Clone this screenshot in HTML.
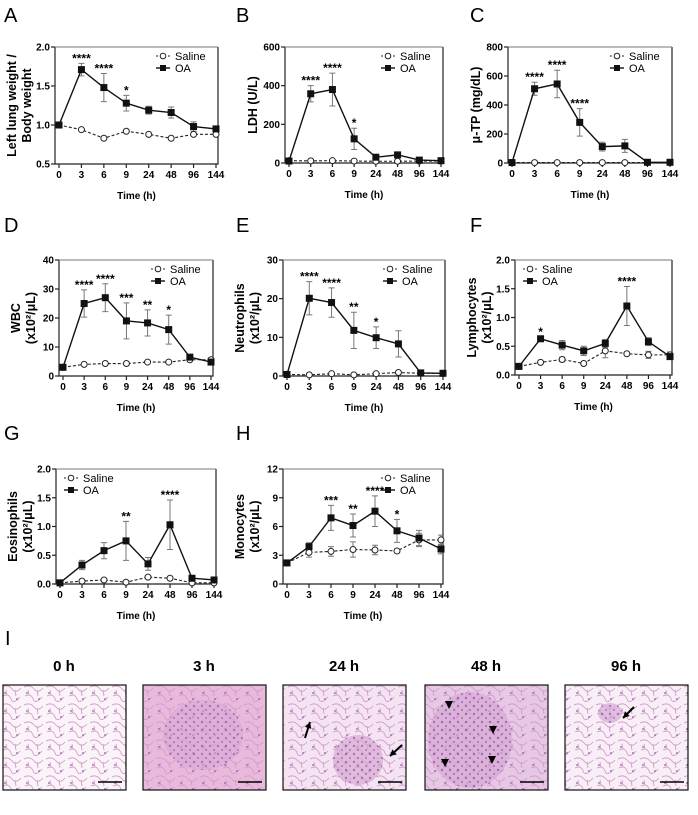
<!DOCTYPE html>
<html><head><meta charset="utf-8">
<style>
html,body{margin:0;padding:0;background:#fff;}
body{width:698px;height:810px;overflow:hidden;font-family:"Liberation Sans",Arial,sans-serif;}
svg text{font-family:"Liberation Sans",Arial,sans-serif;}
</style></head>
<body>
<svg id="fig" width="698" height="810" viewBox="0 0 698 810" xmlns="http://www.w3.org/2000/svg">
<defs>
<pattern id="tis" width="22" height="18" patternUnits="userSpaceOnUse">
<path d="M2 3 Q8 0 12 5 T21 4 M3 12 Q9 9 11 15 T20 13 M6 6 L7 11 M15 6 L16 12" stroke="#d39bcd" stroke-width="0.9" fill="none"/>
<circle cx="5" cy="9" r="0.9" fill="#8a5aa8"/><circle cx="17" cy="15" r="0.9" fill="#8a5aa8"/>
</pattern>
<pattern id="dense" width="8" height="8" patternUnits="userSpaceOnUse">
<rect width="8" height="8" fill="#d9a8d4"/><circle cx="2" cy="2" r="1.2" fill="#7a4aa0"/><circle cx="6" cy="6" r="1.1" fill="#8e5cae"/>
</pattern>
</defs>
<g id="charts"></g>
<g id="histo"></g>
</svg>
<script>
const xCats = ["0","3","6","9","24","48","96","144"];
// Panel A
const aSal = [1.0,0.94,0.83,0.92,0.88,0.83,0.88,0.88];
const aOA = [1.0,1.71,1.48,1.28,1.19,1.16,0.98,0.95];
const aOAErr = [0,0.08,0.18,0.1,0.05,0.07,0.06,0.03];
const aStars = ["","****","****","*","","","",""];
// Panel B
const bSal = [12,11,12,10,9,9,10,10];
const bOA = [10,358,380,125,30,42,15,12];
const bOAErr = [0,42,85,55,8,12,4,3];
const bStars = ["","****","****","*","","","",""];
// Panel C
const cSal = [3,3,3,3,3,3,3,3];
const cOA = [3,512,545,280,113,118,5,5];
const cOAErr = [0,45,95,95,30,45,0,0];
const cStars = ["","****","****","****","","","",""];
// Panel D
const dSal = [3,4,4.3,4.3,4.8,4.8,5.6,5.6];
const dOA = [3,25,27,19,18.3,16,6.5,4.8];
const dOAErr = [0,4.7,4.8,6.2,4.5,5,0.5,0.5];
const dStars = ["","****","****","***","**","*","",""];
// Panel E
const eSal = [0.4,0.3,0.6,0.3,0.6,0.9,0.7,0.7];
const eOA = [0.4,20.1,19,11.8,9.9,8.3,0.8,0.7];
const eOAErr = [0,4.3,3.8,4.7,2.8,3.4,0.2,0.2];
const eStars = ["","****","****","**","*","","",""];
// Panel F
const fSal = [0.15,0.22,0.27,0.2,0.42,0.37,0.35,0.35];
const fSalErr = [0,0,0.04,0,0.12,0,0.06,0.05];
const fOA = [0.15,0.63,0.52,0.42,0.55,1.2,0.58,0.32];
const fOAErr = [0,0.03,0.08,0.08,0.07,0.34,0.07,0.05];
const fStars = ["","*","","","","****","",""];
// Panel G
const gSal = [0.02,0.05,0.07,0.03,0.12,0.1,0.02,0.02];
const gOA = [0.02,0.33,0.58,0.75,0.35,1.03,0.1,0.07];
const gOAErr = [0,0.08,0.14,0.34,0.11,0.43,0.03,0.02];
const gStars = ["","","","**","","****","",""];
// Panel H
const hSal = [2.2,3.3,3.4,3.6,3.55,3.45,4.6,4.6];
const hSalErr = [0,0.5,0.5,0.8,0.5,0.2,0.7,0.5];
const hOA = [2.2,3.9,6.9,6.1,7.6,5.55,4.8,3.65];
const hOAErr = [0,0.4,1.3,1.2,1.6,1.2,0.8,0.5];
const hStars = ["","","***","**","****","*","",""];
// Y ticks
const aTicks=[0.5,1.0,1.5,2.0], bTicks=[0,200,400,600], cTicks=[0,200,400,600,800],
dTicks=[0,10,20,30,40], eTicks=[0,10,20,30], fTicks=[0,0.5,1.0,1.5,2.0], gTicks=[0,0.5,1.0,1.5,2.0], hTicks=[0,3,6,9,12];

const NS="http://www.w3.org/2000/svg";
function mk(tag,attrs,parent,text){const e=document.createElementNS(NS,tag);for(const k in attrs)e.setAttribute(k,attrs[k]);if(text!==undefined)e.textContent=text;parent.appendChild(e);return e;}

const panels=[
{id:"a",letter:"A",lx:4,ly:22,x0:55,x1:218,y0:47,y1:164,ticks:aTicks,dec:1,sal:aSal,oa:aOA,oaErr:aOAErr,stars:aStars,ylab:["Left lung weight /","Body weight"],legLeft:false},
{id:"b",letter:"B",lx:236,ly:22,x0:285,x1:443,y0:47,y1:163,ticks:bTicks,dec:0,sal:bSal,oa:bOA,oaErr:bOAErr,stars:bStars,ylab:["LDH (U/L)"],legLeft:false},
{id:"c",letter:"C",lx:470,ly:22,x0:508,x1:672,y0:47,y1:163,ticks:cTicks,dec:0,sal:cSal,oa:cOA,oaErr:cOAErr,stars:cStars,ylab:["\u03bc-TP (mg/dL)"],legLeft:false},
{id:"d",letter:"D",lx:4,ly:232,x0:59,x1:213,y0:260,y1:376,ticks:dTicks,dec:0,sal:dSal,oa:dOA,oaErr:dOAErr,stars:dStars,ylab:["WBC","(x10\u00b2/\u03bcL)"],legLeft:false},
{id:"e",letter:"E",lx:236,ly:232,x0:283,x1:445,y0:260,y1:376,ticks:eTicks,dec:0,sal:eSal,oa:eOA,oaErr:eOAErr,stars:eStars,ylab:["Neutrophils","(x10\u00b2/\u03bcL)"],legLeft:false},
{id:"f",letter:"F",lx:470,ly:232,x0:515,x1:672,y0:260,y1:375,ticks:fTicks,dec:1,sal:fSal,salErr:fSalErr,oa:fOA,oaErr:fOAErr,stars:fStars,ylab:["Lymphocytes","(x10\u00b2/\u03bcL)"],legLeft:true},
{id:"g",letter:"G",lx:4,ly:440,x0:56,x1:216,y0:469,y1:584,ticks:gTicks,dec:1,sal:gSal,oa:gOA,oaErr:gOAErr,stars:gStars,ylab:["Eosinophils","(x10\u00b2/\u03bcL)"],legLeft:true},
{id:"h",letter:"H",lx:236,ly:440,x0:283,x1:443,y0:469,y1:584,ticks:hTicks,dec:0,sal:hSal,salErr:hSalErr,oa:hOA,oaErr:hOAErr,stars:hStars,ylab:["Monocytes","(x10\u00b2/\u03bcL)"],legLeft:false}
];

const root=document.getElementById("charts");
panels.forEach(p=>{
  const g=mk("g",{},root);
  
  
  const L=mk("text",{x:p.lx,y:p.ly,"font-size":20},g,p.letter);
  
  
  const ymin=p.ticks[0],ymax=p.ticks[p.ticks.length-1];
  const xs=i=>p.x0+4+i*((p.x1-2)-(p.x0+4))/(xCats.length-1);
  const ys=v=>p.y1-(v-ymin)/(ymax-ymin)*(p.y1-p.y0);
  const fr=mk("path",{d:`M${p.x0} ${p.y0} V${p.y1} H${p.x1} V${p.y0}`,fill:"none",stroke:"#222","stroke-width":1.2},g);
  
  
  mk("line",{x1:p.x0,x2:p.x1,y1:p.y0,y2:p.y0,stroke:"#777","stroke-width":1},g);
  p.ticks.forEach(t=>{
    const y=ys(t);
    mk("line",{x1:p.x0-4,x2:p.x0,y1:y,y2:y,stroke:"#222","stroke-width":1.2},g);
    const tl=mk("text",{x:p.x0-5,y:y+3.5,"font-size":10,"font-weight":"bold","text-anchor":"end"},g,t.toFixed(p.dec));
    
    
  });
  xCats.forEach((c,i)=>{
    const x=xs(i);
    mk("line",{x1:x,x2:x,y1:p.y1,y2:p.y1+4,stroke:"#222","stroke-width":1.2},g);
    const tl=mk("text",{x:x,y:p.y1+14,"font-size":10,"font-weight":"bold","text-anchor":"middle"},g,c);
    
    
  });
  const xt=mk("text",{x:(p.x0+p.x1)/2,y:p.y1+35,"font-size":10,"font-weight":"bold","text-anchor":"middle"},g,"Time (h)");
  
  
  const cy=(p.y0+p.y1)/2;
  const n=p.ylab.length;
  p.ylab.forEach((s,k)=>{
    const xx=p.x0-(n==2?39:28)+k*15;
    const yl=mk("text",{x:xx,y:cy,"font-size":12.5,"font-weight":"bold","text-anchor":"middle",transform:`rotate(-90 ${xx} ${cy})`},g,s);
    
    
  });
  const errs=(vals,err,col)=>{ if(!err)return; vals.forEach((v,i)=>{ if(!err[i])return; const x=xs(i);
    mk("path",{d:`M${x} ${ys(v-err[i])} V${ys(v+err[i])} M${x-3} ${ys(v+err[i])} H${x+3} M${x-3} ${ys(v-err[i])} H${x+3}`,stroke:col,"stroke-width":1,fill:"none"},g);});};
  errs(p.oa,p.oaErr,"#777");
  errs(p.sal,p.salErr,"#777");
  const ps=p.sal.map((v,i)=>`${xs(i)},${ys(v)}`).join(" ");
  const sl=mk("polyline",{points:ps,fill:"none",stroke:"#222","stroke-width":1.1,"stroke-dasharray":"3,2"},g);
  
  
  const po=p.oa.map((v,i)=>`${xs(i)},${ys(v)}`).join(" ");
  const ol=mk("polyline",{points:po,fill:"none",stroke:"#111","stroke-width":1.4},g);
  
  
  p.sal.forEach((v,i)=>{
    const c=mk("circle",{cx:xs(i),cy:ys(v),r:3,fill:"#fff",stroke:"#222","stroke-width":1},g);
    
    
  });
  p.oa.forEach((v,i)=>{
    const r=mk("rect",{x:xs(i)-3.5,y:ys(v)-3.5,width:7,height:7,fill:"#111"},g);
    
    
    if(p.stars[i]){
      const top=v+(p.oaErr[i]||0);
      const st=mk("text",{x:xs(i),y:ys(top)-1,"font-size":12,"font-weight":"bold","text-anchor":"middle"},g,p.stars[i]);
      
      
    }
  });
  const lx=p.legLeft?p.x0+8:p.x1-62, ly=p.y0+9;
  const lg=mk("g",{},g);
  
  
  mk("line",{x1:lx,x2:lx+14,y1:ly,y2:ly,stroke:"#222","stroke-dasharray":"2,2"},lg);
  mk("circle",{cx:lx+7,cy:ly,r:2.8,fill:"#fff",stroke:"#222"},lg);
  const t1=mk("text",{x:lx+19,y:ly+4,"font-size":11},lg,"Saline");
  
  
  mk("line",{x1:lx,x2:lx+14,y1:ly+12,y2:ly+12,stroke:"#111","stroke-width":1.4},lg);
  mk("rect",{x:lx+4,y:ly+9,width:6,height:6,fill:"#111"},lg);
  const t2=mk("text",{x:lx+19,y:ly+16,"font-size":11},lg,"OA");
  
  
});

const hroot=document.getElementById("histo");
const il=mk("text",{x:5,y:645,"font-size":20},hroot,"I");


const hLabels=["0 h","3 h","24 h","48 h","96 h"];
const hX=[3,143,283,425,565];
const hBg=["#faf3f8","#e9b9db","#f4e3f0","#e6c8e4","#f8eef6"];
hLabels.forEach((s,i)=>{
  const g=mk("g",{},hroot);
  
  
  const t=mk("text",{x:hX[i]+61,y:671,"font-size":15,"font-weight":"bold","text-anchor":"middle"},g,s);
  
  
  mk("rect",{x:hX[i],y:685,width:123,height:105,fill:hBg[i]},g);
  mk("rect",{x:hX[i],y:685,width:123,height:105,fill:"url(#tis)"},g);
  if(i==1){mk("ellipse",{cx:hX[i]+60,cy:735,rx:40,ry:35,fill:"url(#dense)",opacity:0.6},g);}
  if(i==2){mk("ellipse",{cx:hX[i]+75,cy:760,rx:25,ry:25,fill:"url(#dense)",opacity:0.7},g);}
  if(i==3){mk("ellipse",{cx:hX[i]+45,cy:740,rx:42,ry:48,fill:"url(#dense)",opacity:0.7},g);}
  if(i==4){mk("ellipse",{cx:hX[i]+45,cy:713,rx:12,ry:10,fill:"url(#dense)",opacity:0.7},g);}
  mk("rect",{x:hX[i],y:685,width:123,height:105,fill:"none",stroke:"#111","stroke-width":1.2},g);
  mk("line",{x1:hX[i]+95,x2:hX[i]+119,y1:782,y2:782,stroke:"#000","stroke-width":1.5},g);
});
const arrow=(x1,y1,x2,y2)=>{const a=Math.atan2(y2-y1,x2-x1);
  mk("line",{x1,y1,x2,y2,stroke:"#000","stroke-width":2},hroot);
  mk("polygon",{points:`${x2},${y2} ${x2-7*Math.cos(a-0.5)},${y2-7*Math.sin(a-0.5)} ${x2-7*Math.cos(a+0.5)},${y2-7*Math.sin(a+0.5)}`,fill:"#000"},hroot);};
arrow(305,738,310,722);
arrow(402,745,390,756);
arrow(634,707,623,718);
[[449,707],[493,732],[445,765],[492,762]].forEach(([x,y])=>mk("polygon",{points:`${x-4},${y-6} ${x+4},${y-6} ${x},${y+2}`,fill:"#000"},hroot));
</script>
</body></html>
